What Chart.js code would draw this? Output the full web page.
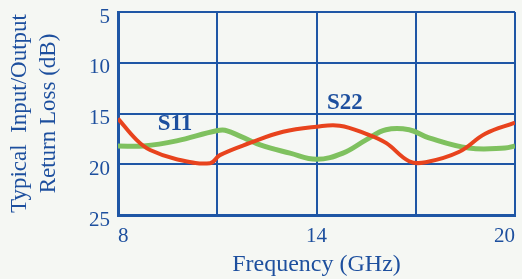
<!DOCTYPE html>
<html><head><meta charset="utf-8">
<script src="https://cdn.jsdelivr.net/npm/chart.js@4/dist/chart.umd.min.js"></script>
<style>html,body{margin:0;padding:0;background:#f5f7f3;}#wrap{width:522px;height:279px;}</style>
</head><body><div id="wrap"><canvas id="c"></canvas></div>
<script>
const freqS11 = [8.0, 8.56, 8.97, 9.77, 10.78, 11.08, 11.99, 12.99, 14.0, 14.7, 15.5, 16.1, 16.8, 17.3, 18.3, 19.1, 20.0];
const lossS11 = [15.5, 17.6, 18.6, 19.5, 19.9, 19.1, 17.9, 16.8, 16.3, 16.2, 17.0, 17.9, 19.7, 19.8, 18.8, 17.0, 15.9];
const freqS22 = [8.0, 8.77, 9.77, 10.98, 11.3, 12.3, 13.2, 14.0, 14.8, 15.5, 16.1, 16.8, 17.4, 18.6, 19.7, 20.0];
const lossS22 = [18.2, 18.2, 17.7, 16.7, 16.7, 18.1, 18.9, 19.5, 18.9, 17.6, 16.6, 16.6, 17.4, 18.4, 18.4, 18.2];
const xTicks = [8, 11, 14, 17, 20];
const xTickLabels = ['8', '', '14', '', '20'];
const yTicks = [5, 10, 15, 20, 25];
const seriesNames = ['S11', 'S22'];
const labelFreq = [9.72, 14.86];
const labelLoss = [16.0, 13.95];

const BLUE = '#1f56a5';
const TXT = '#1d4f9e';
const FONT = '"Liberation Serif", "Times New Roman", serif';

const labelPlugin = {
  id: 'seriesLabels',
  afterDatasetsDraw(chart) {
    const ctx = chart.ctx, xs = chart.scales.x, ys = chart.scales.y;
    ctx.save();
    ctx.fillStyle = TXT;
    ctx.font = 'bold 23px ' + FONT;
    ctx.textAlign = 'center';
    ctx.textBaseline = 'middle';
    seriesNames.forEach((n, i) => {
      ctx.fillText(n, xs.getPixelForValue(labelFreq[i]), ys.getPixelForValue(labelLoss[i]));
    });
    ctx.restore();
  }
};

new Chart(document.getElementById('c'), {
  type: 'line',
  data: {
    datasets: [
      { label: 'S11', data: freqS11.map((f, i) => ({x: f, y: lossS11[i]})), borderColor: '#e8431d', borderWidth: 4, pointRadius: 0, tension: 0.4, fill: false },
      { label: 'S22', data: freqS22.map((f, i) => ({x: f, y: lossS22[i]})), borderColor: '#7fc15f', borderWidth: 5, pointRadius: 0, tension: 0.4, fill: false }
    ]
  },
  options: {
    responsive: true, maintainAspectRatio: false, animation: false,
    layout: { padding: { left: 6, right: 7, top: 12, bottom: 0 } },
    plugins: { legend: { display: false }, tooltip: { enabled: false } },
    scales: {
      x: {
        type: 'linear', min: 8, max: 20,
        afterBuildTicks: (s) => { s.ticks = xTicks.map(v => ({ value: v })); },
        afterFit: (s) => { s.height = 64; s.paddingLeft = 0; s.paddingRight = 0; },
        ticks: { callback: (v) => xTickLabels[xTicks.indexOf(v)], color: TXT, font: { family: FONT, size: 21 }, padding: 9, align: 'inner', maxRotation: 0, autoSkip: false },
        grid: { color: BLUE, lineWidth: 2, drawTicks: false },
        border: { color: BLUE, width: 3 },
        title: { display: true, text: 'Frequency (GHz)', color: TXT, font: { family: FONT, size: 24 }, padding: { top: 0, bottom: 0 } }
      },
      y: {
        type: 'linear', reverse: true, min: 5, max: 25,
        afterBuildTicks: (s) => { s.ticks = yTicks.map(v => ({ value: v })); },
        afterFit: (s) => { s.width = 112; s.paddingTop = 0; s.paddingBottom = 0; },
        ticks: { callback: (v) => ['', String(v)], color: TXT, font: { family: FONT, size: 21, lineHeight: 0.48 }, padding: 8 },
        grid: { color: BLUE, lineWidth: 2, drawTicks: false },
        border: { color: BLUE, width: 3 },
        title: { display: true, text: ['Typical  Input/Output', 'Return Loss (dB)'], color: TXT, font: { family: FONT, size: 23, lineHeight: 1.25 }, padding: { top: 0, bottom: 0 } }
      }
    }
  },
  plugins: [labelPlugin]
});
</script></body></html>
